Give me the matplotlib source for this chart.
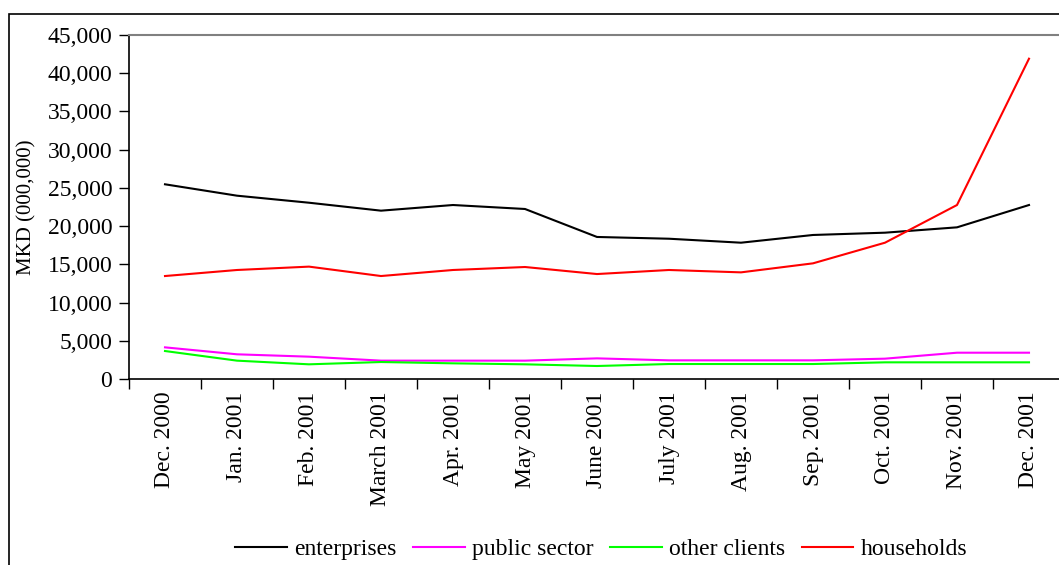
import matplotlib
matplotlib.use("Agg")
import matplotlib.pyplot as plt
from matplotlib.patches import Rectangle
from matplotlib.ticker import FuncFormatter, FixedLocator

categories = ["Dec. 2000", "Jan. 2001", "Feb. 2001", "March 2001", "Apr. 2001",
              "May 2001", "June 2001", "July 2001", "Aug. 2001", "Sep. 2001",
              "Oct. 2001", "Nov. 2001", "Dec. 2001"]
enterprises = [25470, 23980, 23060, 22020, 22760, 22240, 18580, 18350, 17830,
               18840, 19140, 19840, 22760]
public_sector = [4140, 3230, 2920, 2400, 2400, 2400, 2700, 2440, 2440, 2440,
                 2660, 3440, 3440]
other_clients = [3660, 2400, 1920, 2220, 2050, 1920, 1700, 1960, 1960, 1960,
                 2180, 2180, 2180]
households = [13470, 14260, 14700, 13470, 14260, 14650, 13730, 14260, 13950,
              15130, 17830, 22760, 41900]
series_names = ["enterprises", "public sector", "other clients", "households"]
series_colors = ["#000000", "#ff00ff", "#00ff00", "#ff0000"]

plt.rcParams['font.family'] = ['Liberation Serif', 'DejaVu Serif']

W, H = 1059, 565
fig = plt.figure(figsize=(W / 100, H / 100), dpi=100)

# outer chart border
fig.patches.append(Rectangle((9 / W, -0.1), 1.2, (1 - 14 / H) + 0.1,
                             transform=fig.transFigure, fill=False,
                             edgecolor="#000000", linewidth=1.2, zorder=0))

ax_left, ax_right = 129 / W, 1065 / W
ax_bottom, ax_top = 1 - 379 / H, 1 - 35 / H
ax = fig.add_axes([ax_left, ax_bottom, ax_right - ax_left, ax_top - ax_bottom])

x = list(range(len(categories)))
for vals, name, col in zip([enterprises, public_sector, other_clients, households],
                           series_names, series_colors):
    ax.plot(x, vals, color=col, linewidth=1.5, label=name, clip_on=False)

ax.set_xlim(-0.5, len(categories) - 0.5)
ax.set_ylim(0, 45000)
ax.set_yticks(range(0, 45001, 5000))
ax.yaxis.set_major_formatter(FuncFormatter(lambda v, p: f"{int(v):,}"))
ax.set_xticks(x)
ax.set_xticklabels(categories, rotation=90, fontsize=17)
ax.xaxis.set_minor_locator(FixedLocator([i - 0.5 for i in range(len(categories) + 1)]))
ax.tick_params(axis="x", which="major", length=0, pad=9)
ax.tick_params(axis="x", which="minor", length=7, width=1, direction="out")
ax.tick_params(axis="y", length=7, width=1, direction="out", labelsize=17, pad=5)

for s in ["left", "bottom"]:
    ax.spines[s].set_color("#000000")
    ax.spines[s].set_linewidth(1.2)
ax.spines["top"].set_color("#808080")
ax.spines["top"].set_linewidth(1.5)
ax.spines["right"].set_visible(False)

fig.text(27 / W, 1 - 207 / H, "MKD (000,000)", rotation=90, fontsize=15,
         ha="center", va="center")

fig.legend(loc="center", bbox_to_anchor=(601 / W, 1 - 549 / H), ncol=4,
           frameon=False, fontsize=17, handlelength=2.2, handletextpad=0.3,
           columnspacing=0.7, borderpad=0, borderaxespad=0)

fig.savefig("out.png", dpi=100)
